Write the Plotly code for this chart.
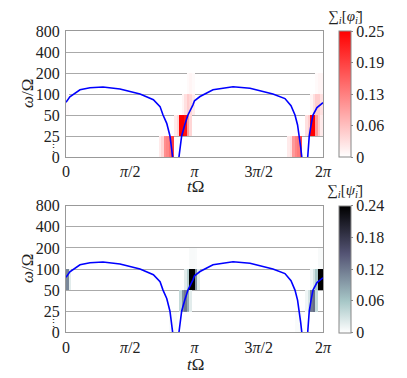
import math
import plotly.graph_objects as go

# frequency bands (rows) and tick labels
band_edges = ['0', '25', '50', '100', '200', '400', '800']
n_cols = 100  # time bins over one full 2*pi cycle

# blue curve, t in units of pi, omega/Omega
t_curve = [0, 0.03, 0.109, 0.187, 0.288, 0.42, 0.576, 0.68, 0.732, 0.755, 0.784, 0.809, 0.82, 0.83, None,
           0.879, 0.89, 0.90, 0.922, 0.949, 0.988, 1.0, 1.043, 1.144, 1.3, 1.432, 1.61, 1.704, 1.751, 1.782,
           1.802, 1.816, 1.826, 1.835, None, 1.881, 1.888, 1.893, 1.907, 1.922, 1.953, 2.0]
w_curve = [76, 91, 115, 123, 126, 118, 100, 83, 66, 50, 38, 25, 12, 0, None,
           0, 12, 25, 35, 50, 70, 80, 92, 115, 127, 121, 100, 86, 68, 50,
           36, 25, 12, 0, None, 0, 12, 25, 36, 50, 64, 75]

# sum phi: (column, value) per band row, only non-zero cells
phi_cols = [
    [36, 37, 38, 39, 40, 41, 86, 87, 88, 89, 90, 91],
    [42, 43, 44, 45, 46, 47, 48, 93, 94, 95, 96, 97, 98, 99],
    [0, 45, 46, 47, 48, 49, 95, 96, 97, 98, 99],
    [47, 48, 49, 97, 98, 99],
    [],
    [],
]
phi_vals = [
    [0.02, 0.04, 0.11, 0.12, 0.14, 0.19, 0.02, 0.03, 0.10, 0.12, 0.13, 0.18],
    [0.02, 0.04, 0.25, 0.25, 0.23, 0.10, 0.04, 0.03, 0.05, 0.25, 0.25, 0.10, 0.05, 0.02],
    [0.005, 0.01, 0.03, 0.05, 0.04, 0.02, 0.01, 0.03, 0.05, 0.05, 0.03],
    [0.005, 0.01, 0.005, 0.005, 0.01, 0.01],
    [],
    [],
]

# sum psi
psi_cols = [
    [40, 41, 42, 89, 90, 91],
    [44, 45, 46, 47, 48, 93, 94, 95, 96, 97],
    [0, 1, 46, 47, 48, 49, 50, 51, 95, 96, 97, 98, 99],
    [48, 49, 50, 98, 99],
    [],
    [],
]
psi_vals = [
    [0.004, 0.004, 0.004, 0.004, 0.004, 0.004],
    [0.04, 0.10, 0.12, 0.08, 0.02, 0.01, 0.03, 0.12, 0.13, 0.04],
    [0.11, 0.02, 0.02, 0.05, 0.24, 0.24, 0.10, 0.02, 0.01, 0.03, 0.06, 0.24, 0.24],
    [0.005, 0.005, 0.004, 0.005, 0.005],
    [],
    [],
]


def to_row(w):
    # bands: linear below 25, one octave per row above
    if w is None:
        return None
    if w < 25:
        return w / 25
    return 1 + math.log2(w / 25)


def build_z(cols, vals):
    z = [[None] * n_cols for _ in band_edges[1:]]
    for r in range(len(cols)):
        for c, v in zip(cols[r], vals[r]):
            z[r][c] = v
    return z


x_centers = [(k + 0.5) * 2 * math.pi / n_cols for k in range(n_cols)]
y_centers = [r + 0.5 for r in range(len(band_edges) - 1)]
t_rad = [None if t is None else t * math.pi for t in t_curve]
w_rows = [to_row(w) for w in w_curve]

FONT = '"Liberation Serif", "Times New Roman", serif'
OFF = 8  # page body margin
W, H = 407 - OFF, 378 - OFF


def px(v):
    return (v - OFF) / W


def py(v):
    return 1 - (v - OFF) / H


red_scale = [[0, 'rgb(255,255,255)'], [1, 'rgb(255,0,0)']]
bone_r = [[0, 'rgb(255,255,255)'], [0.25, 'rgb(167,199,199)'], [0.625, 'rgb(84,84,116)'], [1, 'rgb(0,0,0)']]


def cbar(top_px, bot_px, vals, texts):
    return dict(x=px(339), xanchor='left', y=py((top_px + bot_px) / 2), yanchor='middle',
                len=(bot_px - top_px) / H, lenmode='fraction', thickness=11.5, thicknessmode='pixels',
                xpad=0, ypad=0, outlinecolor='#888888', outlinewidth=1,
                tickvals=vals, ticktext=texts, ticks='outside', ticklen=2, tickcolor='#888888',
                tickfont=dict(family=FONT, size=16, color='#222'))


fig = go.Figure()
fig.add_trace(go.Heatmap(x=x_centers, y=y_centers, z=build_z(phi_cols, phi_vals), zmin=0, zmax=0.25,
                         colorscale=red_scale, hoverongaps=False, xaxis='x', yaxis='y',
                         colorbar=cbar(31, 157, [0, 0.0625, 0.125, 0.1875, 0.25],
                                       ['0', '0.06', '0.13', '0.19', '0.25'])))
fig.add_trace(go.Scatter(x=t_rad, y=w_rows, mode='lines', line=dict(color='#0000ff', width=1.6),
                         showlegend=False, xaxis='x', yaxis='y'))
fig.add_trace(go.Heatmap(x=x_centers, y=y_centers, z=build_z(psi_cols, psi_vals), zmin=0, zmax=0.24,
                         colorscale=bone_r, hoverongaps=False, xaxis='x2', yaxis='y2',
                         colorbar=cbar(205.7, 332.3, [0, 0.06, 0.12, 0.18, 0.24],
                                       ['0', '0.06', '0.12', '0.18', '0.24'])))
fig.add_trace(go.Scatter(x=t_rad, y=w_rows, mode='lines', line=dict(color='#0000ff', width=1.6),
                         showlegend=False, xaxis='x2', yaxis='y2'))

xt = [0, math.pi / 2, math.pi, 3 * math.pi / 2, 2 * math.pi]
xt_text = ['0', '<i>π</i>/2', '<i>π</i>', '3<i>π</i>/2', '2<i>π</i>']
tickfont = dict(family=FONT, size=16, color='#222')
xax = dict(range=[0, 2 * math.pi], tickvals=xt, ticktext=xt_text, showgrid=False, zeroline=False,
           showline=True, mirror=True, linecolor='#999999', linewidth=1, ticks='',
           tickfont=tickfont, automargin=False, domain=[px(66), px(323)])
yax = dict(range=[0, 6], tickvals=list(range(7)), ticktext=band_edges, showgrid=True, gridcolor='#aaaaaa',
           gridwidth=1, zeroline=False, showline=True, mirror=True, linecolor='#999999', linewidth=1,
           ticks='outside', ticklen=2, tickcolor='rgba(0,0,0,0)', tickfont=tickfont, automargin=False)

fig.update_layout(
    width=W, height=H, margin=dict(l=0, r=0, t=0, b=0),
    paper_bgcolor='white', plot_bgcolor='white', showlegend=False,
    xaxis=dict(xax, anchor='y'),
    yaxis=dict(yax, anchor='x', domain=[py(157), py(31)]),
    xaxis2=dict(xax, anchor='y2'),
    yaxis2=dict(yax, anchor='x2', domain=[py(332.3), py(205.7)]),
)

titlefont = dict(family=FONT, size=17, color='#222')
ann = []
for yc, yt, yd in [(94, 186, 148), (269, 364, 323)]:
    ann.append(dict(text='<i>ω</i>/Ω', x=px(27), y=py(yc), textangle=-90, font=titlefont))
    ann.append(dict(text='<i>t</i>Ω', x=px(195), y=py(yt), font=titlefont))
    ann.append(dict(text='⋮', x=px(53), y=py(yd), font=dict(family=FONT, size=11, color='#222')))
ann.append(dict(text='∑<sub><i>i</i></sub>[<i>φ̃</i><sub><i>i</i></sub>]', x=px(345), y=py(17),
                font=dict(family=FONT, size=15, color='#222')))
ann.append(dict(text='∑<sub><i>i</i></sub>[<i>ψ̃</i><sub><i>i</i></sub>]', x=px(345), y=py(191),
                font=dict(family=FONT, size=15, color='#222')))
for a in ann:
    a.update(xref='paper', yref='paper', showarrow=False, xanchor='center', yanchor='middle')
fig.update_layout(annotations=ann)

# no scrollbars for the slightly oversized page
fig.write_html('out.html', post_script="document.documentElement.style.overflow='hidden';"
                                       "document.body.style.overflow='hidden';")
